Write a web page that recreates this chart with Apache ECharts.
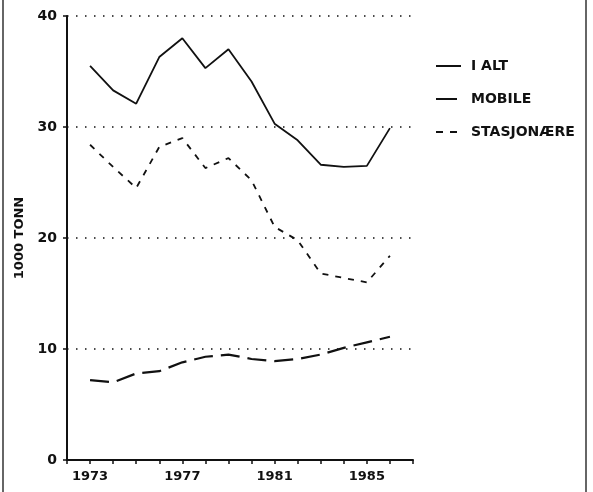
<!DOCTYPE html>
<html>
<head>
<meta charset="utf-8">
<script src="https://cdn.jsdelivr.net/npm/echarts@6/dist/echarts.min.js"></script>
<style>
  html, body { margin: 0; padding: 0; background: #fff; }
  #chart { width: 593px; height: 492px; }
</style>
</head>
<body>
<div id="chart"></div>
<script>
// years 1973 - 1986
const years = [1973, 1974, 1975, 1976, 1977, 1978, 1979, 1980, 1981, 1982, 1983, 1984, 1985, 1986]
const iAlt = [35.5, 33.3, 32.1, 36.3, 38.0, 35.3, 37.0, 34.1, 30.3, 28.8, 26.6, 26.4, 26.5, 29.9]
const mobile = [7.2, 7.0, 7.8, 8.0, 8.8, 9.3, 9.5, 9.1, 8.9, 9.1, 9.5, 10.1, 10.6, 11.1]
const stasjonaere = [28.4, 26.4, 24.5, 28.2, 29.0, 26.3, 27.2, 25.2, 21.0, 19.8, 16.8, 16.4, 16.0, 18.4]
const xLabels = [1973, 1977, 1981, 1985]
const seriesNames = ['I ALT', 'MOBILE', 'STASJONÆRE']

const font = 'DejaVu Sans'
const ink = '#111'

const pairs = (vals) => years.map((y, i) => [y, vals[i]])

const chart = echarts.init(document.getElementById('chart'))
chart.setOption({
  animation: false,
  backgroundColor: '#fff',
  grid: { left: 67, right: 180, top: 16, bottom: 32 },
  legend: {
    orient: 'vertical',
    left: 430,
    top: 54,
    itemWidth: 25,
    itemHeight: 14,
    itemGap: 19,
    itemStyle: { opacity: 0 },
    textStyle: { fontFamily: font, fontWeight: 'bold', fontSize: 14, color: ink, padding: [0, 0, 0, 5] },
    data: [
      { name: seriesNames[0] },
      { name: seriesNames[1], lineStyle: { type: [21, 10] } },
      { name: seriesNames[2], lineStyle: { type: [7, 7] } }
    ]
  },
  xAxis: {
    type: 'value',
    min: 1972,
    max: 1987,
    interval: 1,
    axisLine: { lineStyle: { color: ink, width: 2 } },
    axisTick: { show: true, length: 4, lineStyle: { color: ink, width: 1.5 } },
    splitLine: { show: false },
    axisLabel: {
      fontFamily: font, fontWeight: 'bold', fontSize: 13, color: ink, margin: 10,
      formatter: (v) => xLabels.includes(v) ? String(v) : ''
    }
  },
  yAxis: {
    type: 'value',
    min: 0,
    max: 40,
    interval: 10,
    name: '1000 TONN',
    nameLocation: 'middle',
    nameGap: 38,
    nameTextStyle: { fontFamily: font, fontWeight: 'bold', fontSize: 13, color: ink },
    axisLine: { show: true, lineStyle: { color: ink, width: 2 } },
    axisTick: { show: true, length: 4, lineStyle: { color: ink, width: 1.5 } },
    axisLabel: { fontFamily: font, fontWeight: 'bold', fontSize: 14, color: ink, margin: 10 },
    splitLine: { show: true, lineStyle: { color: ink, width: 1.5, type: [1.5, 7.5] } }
  },
  series: [
    {
      name: seriesNames[0], type: 'line', symbol: 'none', data: pairs(iAlt),
      lineStyle: { color: ink, width: 1.8 }, itemStyle: { color: ink }
    },
    {
      name: seriesNames[1], type: 'line', symbol: 'none', data: pairs(mobile),
      lineStyle: { color: ink, width: 2.2, type: [19, 8] }, itemStyle: { color: ink }
    },
    {
      name: seriesNames[2], type: 'line', symbol: 'none', data: pairs(stasjonaere),
      lineStyle: { color: ink, width: 1.8, type: [6, 7] }, itemStyle: { color: ink }
    }
  ],
  graphic: [
    { type: 'line', shape: { x1: 3, y1: 0, x2: 3, y2: 492 }, style: { stroke: '#333', lineWidth: 1.5 } },
    { type: 'line', shape: { x1: 586, y1: 0, x2: 586, y2: 492 }, style: { stroke: '#333', lineWidth: 1.5 } }
  ]
})
</script>
</body>
</html>
